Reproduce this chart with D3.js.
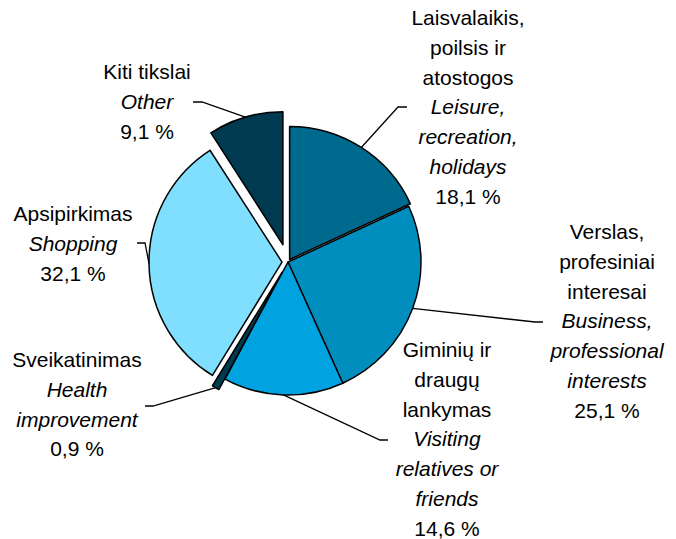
<!DOCTYPE html>
<html>
<head>
<meta charset="utf-8">
<script src="https://cdn.jsdelivr.net/npm/d3@7"></script>
<style>
  html, body { margin: 0; padding: 0; background: #fff; }
  svg { display: block; }
  text { font-family: "Liberation Sans", Arial, sans-serif; font-size: 21px; fill: #000; }
</style>
</head>
<body>
<svg id="chart" width="676" height="539"></svg>
<script>
// Trip purposes, share of trips (%)
const categories = ["leisure", "business", "visiting", "health", "shopping", "other"];
const values = [18.1, 25.1, 14.6, 0.9, 32.1, 9.1];
const namesLt = [
  ["Laisvalaikis,", "poilsis ir", "atostogos"],
  ["Verslas,", "profesiniai", "interesai"],
  ["Giminių ir", "draugų", "lankymas"],
  ["Sveikatinimas"],
  ["Apsipirkimas"],
  ["Kiti tikslai"]
];
const namesEn = [
  ["Leisure,", "recreation,", "holidays"],
  ["Business,", "professional", "interests"],
  ["Visiting", "relatives or", "friends"],
  ["Health", "improvement"],
  ["Shopping"],
  ["Other"]
];
const valueLabels = values.map(v => d3.format(".1f")(v).replace(".", ",") + " %");

// Drawing styles and layout
const colors = ["#006A8E", "#008EBF", "#00A2DF", "#003A50", "#80DFFF", "#003A50"];
const explode = [3, 0, 0, 12, 6, 18];
const cx = 288, cy = 262, radius = 133;
const lineStep = 29.8;
// label block: centre x, centre y of first line
const labelPos = [[468, 18], [607, 232], [447, 350], [77, 360], [73, 214], [147, 72]];
// leader line: elbow point and end point near the label
const leaderPts = [
  [[398, 107], [407, 107]],
  [[535, 322], [543, 322]],
  [[380, 440], [388, 440]],
  [[153, 406], [145, 406]],
  [[145, 243], [137, 243]],
  [[202, 102], [193, 102]]
];

const data = categories.map((c, i) => ({ key: c, value: values[i], i }));
const pie = d3.pie().sort(null).value(d => d.value);
const arcs = pie(data);
const arc = d3.arc().innerRadius(0).outerRadius(radius);

const svg = d3.select("#chart");
const g = svg.append("g").attr("transform", `translate(${cx},${cy})`);

function offsetOf(a) {
  const mid = (a.startAngle + a.endAngle) / 2;
  const d = explode[a.data.i];
  return [Math.sin(mid) * d, -Math.cos(mid) * d];
}

g.selectAll("path.slice")
  .data(arcs)
  .join("path")
  .attr("class", "slice")
  .attr("d", arc)
  .attr("transform", a => { const o = offsetOf(a); return `translate(${o[0]},${o[1]})`; })
  .attr("fill", a => colors[a.data.i])
  .attr("stroke", "#000")
  .attr("stroke-width", 1.5)
  .attr("stroke-linejoin", "round");

// Leader lines from the outer edge of each slice to its label
const leaders = svg.append("g");
arcs.forEach(a => {
  const mid = (a.startAngle + a.endAngle) / 2;
  const o = offsetOf(a);
  const sx = cx + o[0] + Math.sin(mid) * radius;
  const sy = cy + o[1] - Math.cos(mid) * radius;
  const pts = [[sx, sy]].concat(leaderPts[a.data.i]);
  leaders.append("path")
    .attr("d", d3.line()(pts))
    .attr("fill", "none")
    .attr("stroke", "#000")
    .attr("stroke-width", 1.3);
});

// Labels: Lithuanian name, English name in italics, share
const labels = svg.append("g");
data.forEach(d => {
  const lines = []
    .concat(namesLt[d.i].map(t => ({ t, it: false })))
    .concat(namesEn[d.i].map(t => ({ t, it: true })))
    .concat([{ t: valueLabels[d.i], it: false }]);
  const [lx, ly] = labelPos[d.i];
  const txt = labels.append("text").attr("text-anchor", "middle");
  lines.forEach((ln, k) => {
    txt.append("tspan")
      .attr("x", lx)
      .attr("y", ly + k * lineStep + 7)
      .attr("font-style", ln.it ? "italic" : "normal")
      .text(ln.t);
  });
});
</script>
</body>
</html>
